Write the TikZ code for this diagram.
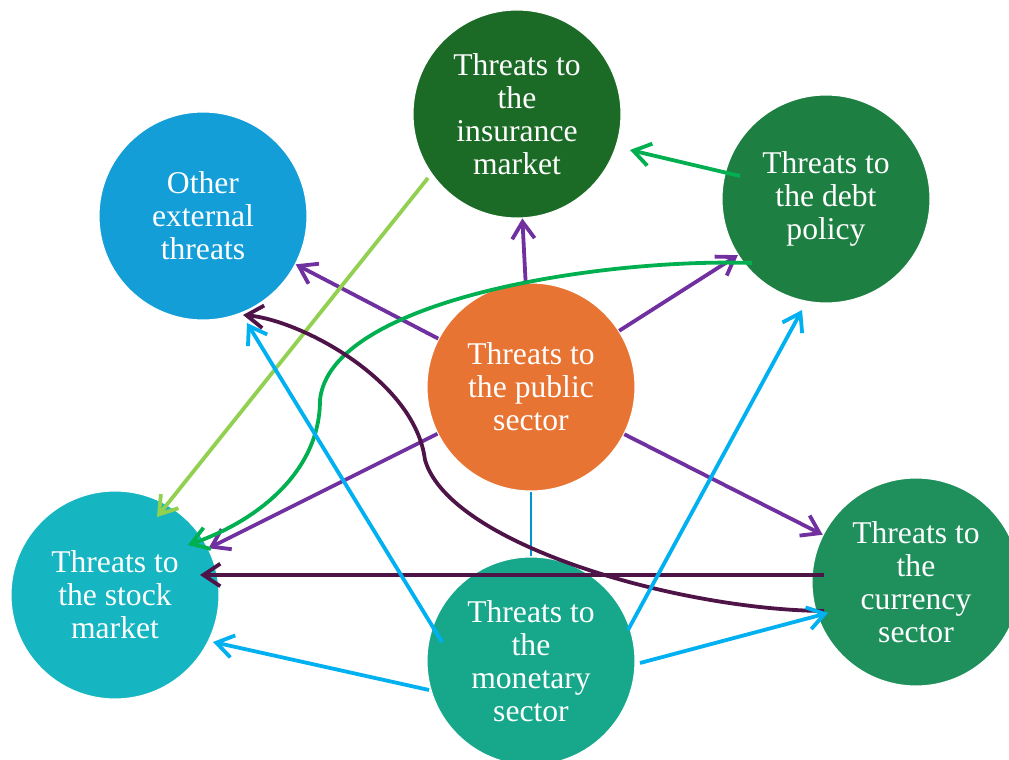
\documentclass[tikz,border=0pt]{standalone}
\usepackage{fontspec}
\setmainfont{Liberation Serif}
\usepackage{tikz}
\usetikzlibrary{arrows.meta}
\usetikzlibrary{calc}
\definecolor{insgreen}{RGB}{27,107,38}
\definecolor{debtgreen}{RGB}{30,127,66}
\definecolor{extblue}{RGB}{19,158,216}
\definecolor{puborange}{RGB}{232,116,51}
\definecolor{stockteal}{RGB}{21,181,193}
\definecolor{curgreen}{RGB}{31,143,92}
\definecolor{monteal}{RGB}{23,168,140}
\definecolor{linkpurple}{RGB}{112,48,160}
\definecolor{linkgreen}{RGB}{0,176,80}
\definecolor{linklime}{RGB}{146,208,80}
\definecolor{linkplum}{RGB}{78,20,72}
\definecolor{linkblue}{RGB}{0,176,240}

\begin{document}
\begin{tikzpicture}[x=0.025cm,y=-0.025cm,line width=2.7pt,>={Straight Barb[length=12pt,width=16pt]},main node/.style={circle, draw=white, line width=0.8pt, minimum size=5.2cm, inner sep=0pt, align=center, text=white, font=\fontsize{22.5}{23.4}\selectfont}]
			\useasboundingbox (0,0) rectangle (1009,760);
			% Nodes
			\node[main node, fill=insgreen] (ins) at (517,114) {Threats to\\the\\insurance\\market};
			\node[main node, fill=debtgreen] (debt) at (826,199) {Threats to\\the debt\\policy};
			\node[main node, fill=extblue] (ext) at (203,216) {Other\\external\\threats};
			\node[main node, fill=puborange] (pub) at (531,387) {Threats to\\the public\\sector};
			\node[main node, fill=stockteal] (stock) at (115,595) {Threats to\\the stock\\market};
			\node[main node, fill=curgreen] (cur) at (916,582) {Threats to\\the\\currency\\sector};
			\node[main node, fill=monteal] (mon) at (531,661) {Threats to\\the\\monetary\\sector};
			
			% public sector
			\path[->, linkpurple, line width=2.7pt]
			(pub) edge (ins)
			edge (ext)
			edge (debt)
			edge (cur)
			edge (stock);
			\draw[linkblue!85!black, line width=1.4pt] (pub) -- (mon);
			
			% debt policy
			\draw[->, linkgreen] ($(debt)+(-86,-23)$) -- ($(ins)+(113,36)$);
			\draw[->, linkgreen] ($(debt)+(-74,64)$) .. controls (600,258) and (330,300) .. (320,400)
			.. controls (320,470) and (260,520) .. ($(stock)+(73,-50)$);
			
			% insurance market
			\draw[->, linklime] ($(ins)+(-89,64)$) -- ($(stock)+(42,-78)$);
			
			% currency sector
			\draw[->, linkplum] ($(cur)+(-92,29)$) .. controls (680,610) and (450,545) .. (425,460)
			.. controls (415,380) and (300,320) .. ($(ext)+(40,99)$);
			\draw[->, linkplum] ($(cur)+(-92,-7)$) -- ($(stock)+(85,-20)$);
			
			% monetary sector
			\path[->, linkblue, line width=2.7pt]
			($(mon)+(-89,-19)$) edge ($(ext)+(44,107)$)
			($(mon)+(-102,29)$) edge ($(stock)+(98,47)$)
			($(mon)+(97,-31)$) edge ($(debt)+(-24,111)$)
			($(mon)+(109,2)$) edge ($(cur)+(-88,31)$);
			
		\end{tikzpicture}
\end{document}
